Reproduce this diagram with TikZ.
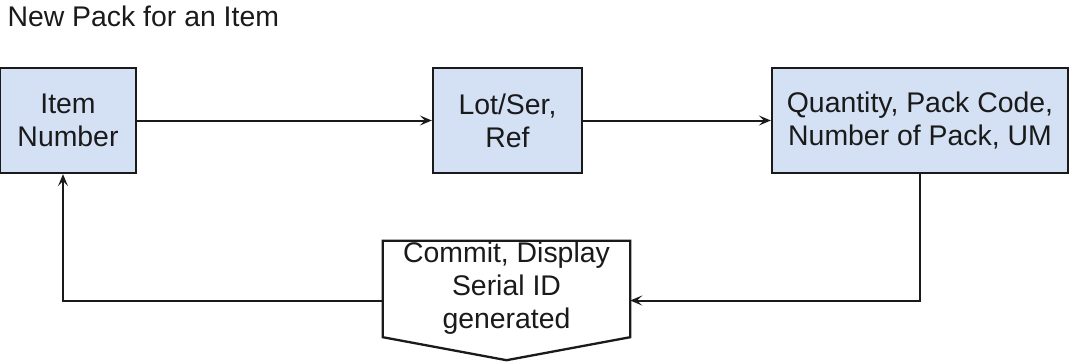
\documentclass[tikz,border=0pt]{standalone}
\usepackage{fontspec}
\setmainfont{Liberation Sans}
\usetikzlibrary{arrows.meta,calc}
\definecolor{boxfill}{HTML}{D4E1F5}
\definecolor{ink}{HTML}{1A1A1A}
\begin{document}
\begin{tikzpicture}[x=1pt,y=-1pt,
  bluebox/.style={draw=ink, line width=2.3pt, fill=boxfill, align=center, inner sep=0pt,
    font=\fontsize{28.4}{33}\selectfont, text=ink},
  conn/.style={draw=ink, line width=2pt, -{Stealth[length=12pt,width=10pt,inset=5pt]}}]
\useasboundingbox (0,0) rectangle (1071,362);
\node[anchor=base west, font=\fontsize{28.4}{33}\selectfont, text=ink] (title) at (4,26) {New Pack for an Item};
\node[bluebox, minimum width=136pt, minimum height=105pt] (item) at (68,120.5) {Item\\Number};
\node[bluebox, minimum width=149pt, minimum height=105pt] (lot) at (507.5,120.5) {Lot/Ser,\\Ref};
\node[bluebox, minimum width=296pt, minimum height=105pt] (qty) at (920,120.5) {Quantity, Pack Code,\\Number of Pack, UM};
\node[minimum width=247pt, minimum height=119pt, inner sep=0pt] (commit) at (506.5,300.5) {};
\draw[draw=ink, line width=2.3pt, fill=white]
  (commit.north west) -- (commit.north east) -- ($(commit.south east)+(0,-23)$)
  -- (commit.south) -- ($(commit.south west)+(0,-23)$) -- cycle;
\node[align=center, inner sep=0pt, font=\fontsize{28.4}{33}\selectfont, text=ink] (committext) at ($(commit.center)+(0,-12)$) {Commit, Display\\Serial ID\\generated};
\draw[conn] (item.east) -- (lot.west);
\draw[conn] (lot.east) -- (qty.west);
\draw[conn] (qty.south) |- (commit.east);
\draw[conn] (commit.west) -| ([xshift=-5pt]item.south);
\end{tikzpicture}
\end{document}
